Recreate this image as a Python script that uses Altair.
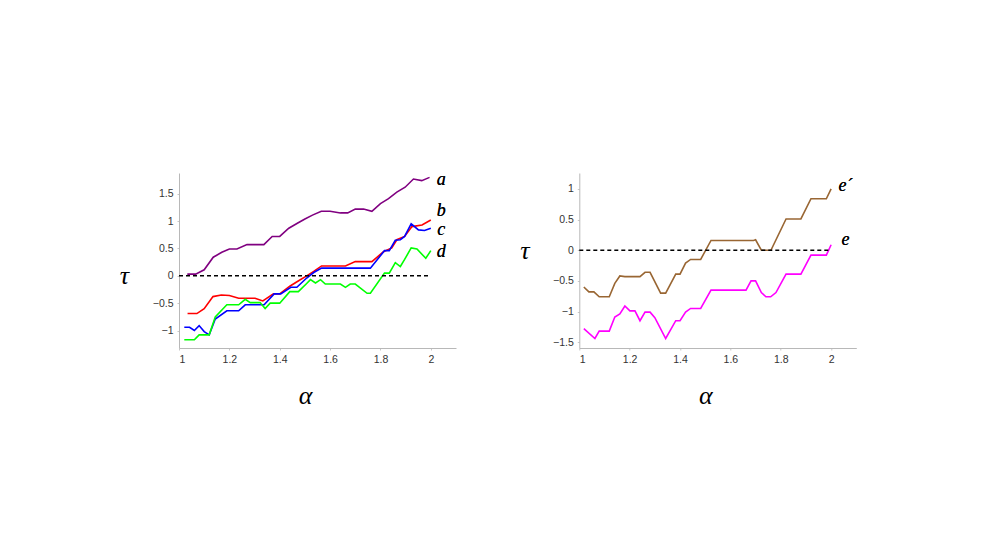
import altair as alt
import pandas as pd

# ---------------- Left panel data ----------------
a_x = [1.033, 1.066, 1.10, 1.136, 1.17, 1.20, 1.23, 1.27, 1.337, 1.37, 1.40, 1.436,
       1.47, 1.50, 1.53, 1.565, 1.60, 1.641, 1.67, 1.70, 1.733, 1.766, 1.80, 1.832,
       1.865, 1.898, 1.931, 1.964, 1.995]
a_y = [0.03, 0.03, 0.11, 0.34, 0.43, 0.49, 0.49, 0.57, 0.57, 0.72, 0.72, 0.87,
       0.96, 1.04, 1.11, 1.18, 1.18, 1.15, 1.15, 1.22, 1.22, 1.18, 1.32, 1.41,
       1.53, 1.62, 1.77, 1.74, 1.80]

b_x = [1.034, 1.071, 1.10, 1.135, 1.168, 1.20, 1.237, 1.302, 1.333, 1.375, 1.40, 1.44,
       1.475, 1.507, 1.535, 1.566, 1.661, 1.70, 1.766, 1.812, 1.845, 1.865, 1.896,
       1.925, 1.965, 2.0]
b_y = [-0.69, -0.69, -0.60, -0.38, -0.35, -0.36, -0.41, -0.41, -0.46, -0.33, -0.33, -0.19,
       -0.09, 0.0, 0.08, 0.18, 0.18, 0.26, 0.26, 0.44, 0.51, 0.66, 0.72,
       0.90, 0.93, 1.02]

c_x = [1.021, 1.042, 1.061, 1.08, 1.10, 1.12, 1.144, 1.19, 1.237, 1.263, 1.338, 1.378,
       1.404, 1.444, 1.468, 1.507, 1.535, 1.566, 1.76, 1.816, 1.835, 1.859, 1.879,
       1.896, 1.922, 1.951, 1.975, 2.0]
c_y = [-0.94, -0.94, -1.0, -0.91, -1.02, -1.08, -0.79, -0.64, -0.64, -0.53, -0.53, -0.33,
       -0.33, -0.21, -0.21, -0.04, 0.06, 0.14, 0.14, 0.46, 0.46, 0.65, 0.66,
       0.72, 0.95, 0.84, 0.83, 0.87]

d_x = [1.021, 1.061, 1.08, 1.12, 1.144, 1.19, 1.237, 1.263, 1.283, 1.322, 1.342, 1.362,
       1.40, 1.44, 1.474, 1.507, 1.522, 1.542, 1.562, 1.581, 1.641, 1.661, 1.68, 1.70,
       1.747, 1.76, 1.816, 1.835, 1.859, 1.879, 1.896, 1.922, 1.945, 1.98, 2.0]
d_y = [-1.17, -1.17, -1.08, -1.08, -0.75, -0.53, -0.53, -0.43, -0.49, -0.49, -0.60, -0.50,
       -0.50, -0.29, -0.29, -0.14, -0.07, -0.13, -0.07, -0.15, -0.15, -0.21, -0.15, -0.15,
       -0.32, -0.32, 0.05, 0.05, 0.24, 0.17, 0.30, 0.51, 0.49, 0.32, 0.46]

# ---------------- Right panel data ----------------
ep_x = [1.018, 1.038, 1.058, 1.079, 1.119, 1.141, 1.161, 1.181, 1.241, 1.261, 1.281,
        1.323, 1.343, 1.383, 1.40, 1.422, 1.442, 1.482, 1.523, 1.692, 1.70, 1.723,
        1.761, 1.821, 1.880, 1.920, 1.981, 2.0]
ep_y = [-0.60, -0.68, -0.68, -0.76, -0.76, -0.54, -0.42, -0.43, -0.43, -0.36, -0.36,
        -0.70, -0.70, -0.39, -0.39, -0.21, -0.15, -0.15, 0.16, 0.16, 0.17, 0.0,
        0.0, 0.51, 0.51, 0.84, 0.84, 1.0]

e_x = [1.018, 1.062, 1.079, 1.119, 1.141, 1.161, 1.181, 1.201, 1.221, 1.241, 1.261,
       1.281, 1.30, 1.343, 1.383, 1.40, 1.422, 1.442, 1.482, 1.523, 1.662, 1.682,
       1.70, 1.723, 1.741, 1.76, 1.781, 1.821, 1.880, 1.920, 1.981, 2.0]
e_y = [-1.28, -1.44, -1.32, -1.32, -1.09, -1.04, -0.91, -0.99, -0.99, -1.15, -1.01,
       -1.01, -1.10, -1.44, -1.15, -1.15, -1.01, -0.95, -0.95, -0.65, -0.65, -0.50,
       -0.50, -0.69, -0.76, -0.76, -0.69, -0.39, -0.39, -0.08, -0.08, 0.09]

zero_x = [1.0, 2.0]
zero_y = [0.0, 0.0]

left_names = ["a", "b", "c", "d"]
left_colors = ["#800080", "#ff0000", "#0000ff", "#00ff00"]
right_names = ["e´", "e"]
right_colors = ["#996633", "#ff00ff"]

x_ticks = [1, 1.2, 1.4, 1.6, 1.8, 2]
left_y_ticks = [-1, -0.5, 0, 0.5, 1, 1.5]
right_y_ticks = [-1.5, -1, -0.5, 0, 0.5, 1]


def frame(pairs):
    return pd.concat(
        [pd.DataFrame({"alpha": xs, "tau": ys, "series": n, "k": range(len(xs))})
         for n, xs, ys in pairs],
        ignore_index=True,
    )


left_df = frame([("a", a_x, a_y), ("b", b_x, b_y), ("c", c_x, c_y), ("d", d_x, d_y)])
right_df = frame([("e´", ep_x, ep_y), ("e", e_x, e_y)])
zero_df = pd.DataFrame({"alpha": zero_x, "tau": zero_y})

SERIF = "Times New Roman, Liberation Serif, DejaVu Serif, serif"
SANS = "Liberation Sans, Arial, sans-serif"

LABEL_EXPR = ("abs(datum.value - round(datum.value)) < 1e-9 ? "
              "format(datum.value, 'd') : format(datum.value, '.1f')")


def axis_common():
    return dict(
        titleAngle=0, titleAlign="center", titleBaseline="middle",
        titleFont=SERIF, titleFontStyle="italic", titleFontSize=26,
        titleFontWeight="normal", titleColor="black",
        grid=False, labelFont=SANS, labelFontSize=10.5, labelColor="#333333",
        labelOverlap=False, labelPadding=4, domainColor="#b8b8b8",
        tickColor="#c8c8c8", tickSize=2, labelExpr=LABEL_EXPR,
    )


def panel(df, names, colors, ydomain, yticks, title_y, labels):
    xenc = alt.X(
        "alpha:Q",
        scale=alt.Scale(domain=[1, 2.1], nice=False, zero=False),
        axis=alt.Axis(values=x_ticks, title="α",
                      titleX=126, titleY=47, **axis_common()),
    )
    yenc = alt.Y(
        "tau:Q",
        scale=alt.Scale(domain=ydomain, nice=False, zero=False),
        axis=alt.Axis(values=yticks, title="τ", tickCount=len(yticks),
                      titleX=-55, titleY=title_y, **axis_common()),
    )
    lines = alt.Chart(df).mark_line(strokeWidth=1.6).encode(
        x=xenc, y=yenc,
        color=alt.Color("series:N", scale=alt.Scale(domain=names, range=colors), legend=None),
        order="k:Q",
    )
    zero = alt.Chart(zero_df).mark_line(
        color="black", strokeDash=[4, 3], strokeWidth=1.4
    ).encode(x="alpha:Q", y="tau:Q")
    layers = [lines, zero]
    for txt, lx, ly in labels:
        layers.append(
            alt.Chart(zero_df).mark_text(
                text=txt, font=SERIF, fontStyle="italic", fontWeight="normal",
                fontSize=18, color="black", align="center", baseline="middle",
            ).encode(x=alt.datum(lx), y=alt.datum(ly))
        )
    return alt.layer(*layers).properties(width=277, height=175)


left = panel(
    left_df, left_names, left_colors, [-1.32, 1.88], left_y_ticks, 102,
    [("a", 2.041, 1.755), ("b", 2.041, 1.18), ("c", 2.041, 0.835), ("d", 2.041, 0.43)],
)
right = panel(
    right_df, right_names, right_colors, [-1.595, 1.26], right_y_ticks, 77,
    [("e´", 2.057, 1.04), ("e", 2.057, 0.17)],
)

chart = (
    alt.hconcat(left, right, spacing=123.3, bounds="flush")
    .resolve_scale(color="independent")
    .properties(padding={"left": 111, "top": 162, "right": 5, "bottom": 5},
                background="white")
    .configure_view(strokeWidth=0, stroke="transparent")
    .configure_axis(labelOverlap=False)
)

chart.save("out.html", embed_options={"renderer": "svg", "actions": False})
